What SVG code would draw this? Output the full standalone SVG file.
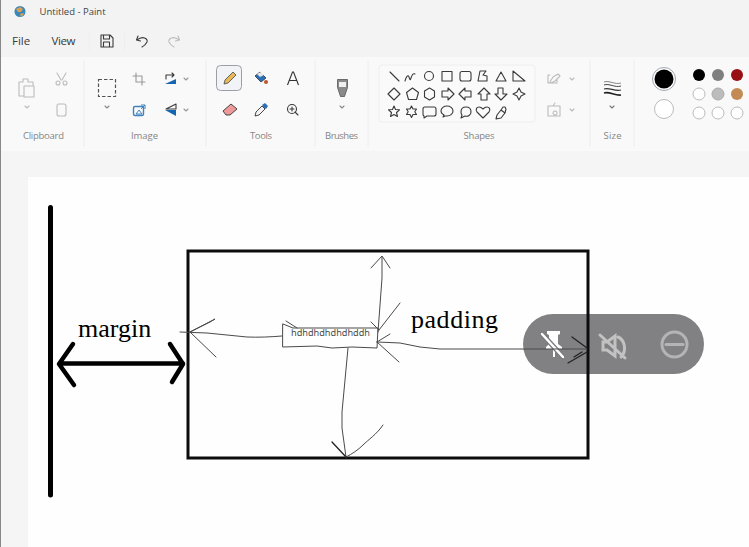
<svg xmlns="http://www.w3.org/2000/svg" width="749" height="547" viewBox="0 0 749 547">
<style>
text{font-family:"Open Sans","Noto Sans","Liberation Sans",sans-serif}
.ui{font-size:11.5px;fill:#3a3a3a}
.grp{font-size:9.5px;fill:#858585;text-anchor:middle}
.ic{fill:none;stroke:#3a3a3a;stroke-width:1.1;stroke-linejoin:round;stroke-linecap:round}
.dim{fill:none;stroke:#bcbcbc;stroke-width:1.1;stroke-linejoin:round;stroke-linecap:round}
.sep{stroke:#eeeeee;stroke-width:1}
.lab{font-family:"Liberation Serif","Times New Roman",serif;font-size:26px;fill:#000}
.thick{fill:none;stroke:#000;stroke-width:4.500;stroke-linecap:round;stroke-linejoin:round}
.thin{fill:none;stroke:#4a4a4a;stroke-width:1;stroke-linecap:round;stroke-linejoin:round}
.dark{fill:none;stroke:#222;stroke-width:1.300;stroke-linecap:round;stroke-linejoin:round}
.sw{stroke:#bbb;stroke-width:1;fill:#fff}
</style>
<rect width="749" height="547" fill="#f5f5f5"/>
<rect x="0" y="0" width="749" height="57" fill="#f3f3f3"/>
<rect x="0" y="57" width="749" height="94" fill="#f9f9f9"/>
<rect x="0" y="0" width="1" height="547" fill="#888"/>
<g id="titlebar">
<circle cx="20" cy="11.500" r="5.500" fill="#3b87b8"/>
<path d="M16 9l4-2 3 2-2 3-3 0zM20 14l3-1 1 1-3 3z" fill="#d8a05a"/>
<text x="39.500" y="15" style="font-size:9.500px;fill:#444">Untitled - Paint</text>
<text class="ui" x="12" y="45">File</text>
<text class="ui" x="51.500" y="45" textLength="24">View</text>
<path class="sep" d="M89 33V50M124.500 33V50"/>
<path class="ic" d="M101 35h9l3 3v9h-12zM103.500 35v4h6v-4M103.500 47v-5h6v5"/>
<path class="ic" d="M138 36l-1.500 4 4 1M137 40c6-5 11-1 10 2-1 2-3 4-5 5"/>
<path class="dim" d="M178 36l1.500 4-4 1M179 40c-6-5-11-1-10 2 1 2 3 4 5 5"/>
</g>
<g id="ribbon">
<path class="sep" d="M84 60V147M206 60V147M315 60V147M368 60V147M590 60V147M634 60V147"/>
<g id="clipboard">
<path class="dim" d="M19 82h4v-3h5v3h5v4M19 82v14h5M24 86h10v11h-10z"/>
<path class="dim" d="M25 106l2 2 2-2M57 73l4 7M66 73l-4 7"/>
<circle class="dim" cx="58" cy="83" r="2"/><circle class="dim" cx="65" cy="83" r="2"/>
<rect class="dim" x="57" y="104" width="9" height="12" rx="2"/>
<text class="grp" x="43.500" y="139" textLength="41">Clipboard</text>
</g>
<g id="image">
<rect x="98.500" y="79.500" width="17" height="17" fill="none" stroke="#555" stroke-width="1.200" stroke-dasharray="3.500 2"/>
<path class="dim" d="M105 106l2 2 2-2" style="stroke:#888"/>
<path class="dim" d="M133 76h9v9M136 73v9h9" style="stroke:#999"/>
<path d="M165 84l11-5v5z" fill="#1565b0"/><path class="ic" d="M166 79v-4h8M172 73l2 2-2 2"/>
<path class="dim" d="M184 78l2 2 2-2M184 109l2 2 2-2" style="stroke:#999"/>
<rect x="133.500" y="106.500" width="10" height="9" rx="1.500" fill="none" stroke="#3f82bd" stroke-width="1.400"/>
<path d="M136 114l3-4 3 4zM141 105h4v4M145 105l-4 4" fill="none" stroke="#3f82bd" stroke-width="1"/>
<path d="M165 110l11 0v6z" fill="#1565b0"/><path class="ic" d="M166 109l10-5v5z"/>
<text class="grp" x="144.500" y="139" textLength="27">Image</text>
</g>
<g id="tools">
<rect x="216.500" y="65.500" width="25" height="25" rx="4" fill="#f1f3f6" stroke="#9a9fa6"/>
<path d="M224 84l1-4 8-8 3 3-8 8z" fill="#e8b85a" stroke="#444" stroke-width=".8"/>
<path d="M255 76l5-4 6 6-5 4z" fill="#2c70b8" stroke="#333" stroke-width=".8"/><path d="M257 74l4-2 3 3-4 2z" fill="#e8e8e8"/><circle cx="266" cy="82" r="2" fill="#c0562e"/>
<path d="M287.500 85l5-13h1l5 13M289.500 80.500h7" fill="none" stroke="#333" stroke-width="1.100"/>
<path d="M223 111l8-7 6 5-7 6h-4z" fill="#ef9a9a" stroke="#333" stroke-width=".9"/>
<path d="M255 116l1-4 6-6 3 3-6 6z" fill="#f4f4f4" stroke="#333" stroke-width=".9"/><path d="M262 105l3-2 3 3-2 3-2-1z" fill="#2c70b8"/>
<circle class="ic" cx="292" cy="109" r="4.500"/><path class="ic" d="M295 112l3 3M290 109h4M292 107v4"/>
<text class="grp" x="261" y="139" textLength="22">Tools</text>
</g>
<g id="brushes">
<path d="M337.500 79.500h10v8l-3 9h-4l-3-9z" fill="#8a8a8a" stroke="#555" stroke-width=".8"/><rect x="339" y="82" width="7" height="5" fill="#f0f0f0"/>
<path class="dim" d="M340 106l2 2 2-2" style="stroke:#888"/>
<text class="grp" x="341.500" y="139" textLength="33">Brushes</text>
</g>
<g id="shapes">
<rect x="379" y="65" width="156" height="57" rx="3" fill="#fafafa" stroke="#eee"/>
<path class="ic" d="M390 72l9 9M405 81c1-4 3-7 4-4s1 4 2 1 2-5 4-4"/>
<circle class="ic" cx="429" cy="76" r="4.500"/>
<rect class="ic" x="442" y="71.500" width="10" height="9.500"/>
<rect class="ic" x="460" y="71.500" width="11" height="9.500" rx="2"/>
<path class="ic" d="M478 81l2-10h6l-3 4 4 1v5zM496 81l5-9 5 9zM513 71v10h12z"/>
<path class="ic" d="M394 88l6 6-6 6-6-6zM412.500 88l6 4.500-2 7h-8l-2-7zM429.500 88l5 3v6l-5 3-5-3v-6zM442 91h6v-3l6 6-6 6v-3h-6zM471 91h-6v-3l-6 6 6 6v-3h6zM481 100v-6h-3l6-6 6 6h-3v6zM503 88v6h4l-6 6-6-6h3v-6zM519 88l2 4 4 2-4 2-2 4-2-4-4-2 4-2z"/>
<path class="ic" d="M394 106l1.500 3.500 4 .3-3 2.700 1 4-3.500-2-3.500 2 1-4-3-2.700 4-.3zM411.500 106l1.500 3h3.500l-1.700 2.800 1.700 2.700h-3.500l-1.500 3-1.500-3h-3.500l1.700-2.700-1.700-2.800h3.500z"/>
<path class="ic" d="M425 107h9a2 2 0 0 1 2 2v5a2 2 0 0 1-2 2h-7l-3 2v-2a2 2 0 0 1-1-2v-5a2 2 0 0 1 2-2z"/>
<path class="ic" d="M443 117l1-2c-2-1-3-2-3-4 0-3 3-5 6-5s6 2 6 5-3 5-6 5h-2z"/>
<path class="ic" d="M461 118l1-3c-1-1-1-2-1-3 0-3 2-5 5-5s5 2 5 5-3 5-6 4z"/>
<path class="ic" d="M483 118l-6-6c-2-3 0-5 2-5 2 0 3 1 4 2 1-1 2-2 4-2 2 0 4 2 2 5z"/>
<path class="ic" d="M496 119l1-4 4-5 4 3-4 5zM501 110l2-3h2l1 2-1 4"/>
<path class="dim" d="M550 82l3-5 5-3 2 2-5 5-4 2zM550 75h-2v8h9v-3"/>
<path class="dim" d="M570 78l2 2 2-2M570 109l2 2 2-2"/>
<path class="dim" d="M548 106h12v10h-12zM553 106l2-3M555 111a2 2 0 1 0 .1 0"/>
<text class="grp" x="479" y="139" textLength="31">Shapes</text>
</g>
<g id="size">
<path d="M604 82c5-2 11 3 17 1" fill="none" stroke="#666" stroke-width=".8"/>
<path d="M604 85c5-2 11 3 17 1" fill="none" stroke="#444" stroke-width="1"/>
<path d="M604 89c5-2 11 3 17 1" fill="none" stroke="#333" stroke-width="1.300"/>
<path d="M604 93c5-2 11 3 17 2" fill="none" stroke="#222" stroke-width="1.700"/>
<path class="dim" d="M610 106l2 2 2-2" style="stroke:#777"/>
<text class="grp" x="612.500" y="139" textLength="18">Size</text>
</g>
<g id="colours">
<circle cx="664" cy="79" r="11.500" fill="#fff" stroke="#9fa6ae"/>
<circle cx="664" cy="79" r="9.500" fill="#000"/>
<circle cx="664" cy="109" r="9.500" class="sw"/>
<circle cx="699" cy="75" r="6" fill="#000"/>
<circle cx="718" cy="75" r="6" fill="#7f7f7f"/>
<circle cx="737" cy="75" r="6" fill="#980f14"/>
<circle cx="699" cy="94" r="6" class="sw"/>
<circle cx="718" cy="94" r="6" fill="#bcbcbc" stroke="#aaa"/>
<circle cx="737" cy="94" r="6" fill="#c48a54"/>
<circle cx="699" cy="113" r="6" class="sw"/>
<circle cx="718" cy="113" r="6" class="sw"/>
<circle cx="737" cy="113" r="6" class="sw"/>
</g>
</g>
<rect id="canvas" x="28" y="177" width="721" height="370" fill="#fefefe"/>
<g id="overlay">
<rect x="523" y="314" width="181" height="60" rx="30" fill="#6b6b6d" fill-opacity=".85"/>
<path d="M547 331h13v3l-2 1v9l4 3v2h-7v8h-2v-8h-7v-2l3-3v-9l-2-1z" fill="#fff"/>
<path d="M542 334l21 23" stroke="#7c7c7e" stroke-width="5" stroke-linecap="round"/>
<path d="M542 334l21 23" stroke="#fff" stroke-width="2.500" stroke-linecap="round"/>
<path d="M603 342h4l8-6v20l-8-6h-4zM618 337c7 3 9 14 3 20M600 335l25 23" fill="none" stroke="#c2c2c2" stroke-width="3" stroke-linecap="round"/>
<circle cx="674.500" cy="344.500" r="12.500" fill="none" stroke="#b4b4b4" stroke-width="3"/>
<path d="M666 344.500h17" stroke="#b4b4b4" stroke-width="3" stroke-linecap="round"/>
</g>
<g id="wall"><path class="thick" style="stroke-width:5" d="M50.500 207.500V495"/></g>
<g id="box"><rect x="188" y="251" width="400" height="207" fill="none" stroke="#0c0c0c" stroke-width="3"/></g>
<g id="inner"><path class="thin" d="M283 324l10 4h85l-1 20-25-1-20 1-15-2-34 1z"/>
<text x="291" y="335.500" style="font-size:9.500px;font-family:'Noto Sans','Liberation Sans',sans-serif" textLength="79" lengthAdjust="spacingAndGlyphs" fill="#4a4a4a">hdhdhdhdhdhddh</text></g>
<text id="margin" class="lab" x="78" y="337">margin</text>
<text id="padding" class="lab" x="411" y="328" textLength="87">padding</text>
<g id="connectors">
<path class="thick" d="M60 363.500H183M73 344l-14 20 15 21M170 344l13 20-11 18"/>
<path class="thin" d="M282 336c-12 1-24 1.500-35 1l-40-4-27-1"/>
<path class="thin" d="M190 332l25-13-5 3-20 10M190 332l26 25"/>
<path class="thin" d="M378 332l4-54v-21M371 268l11-12 8 12M379 330l21-27M379 330l-8-8M286 321l11 7"/>
<path class="thin" d="M377 342l23 1 20 4 20 2h147M377 342l22 20M377 342l13-8"/>
<path class="dark" d="M572 337l15 11M568 363l19-11M574 357l8-5"/>
<path class="thin" d="M348 348l-6 64v16l4 29"/>
<path class="dark" d="M332 442l14 15"/>
<path class="thin" d="M346 457c6-3 12-7 17-12s14-11 20-20"/>
</g>
</svg>
